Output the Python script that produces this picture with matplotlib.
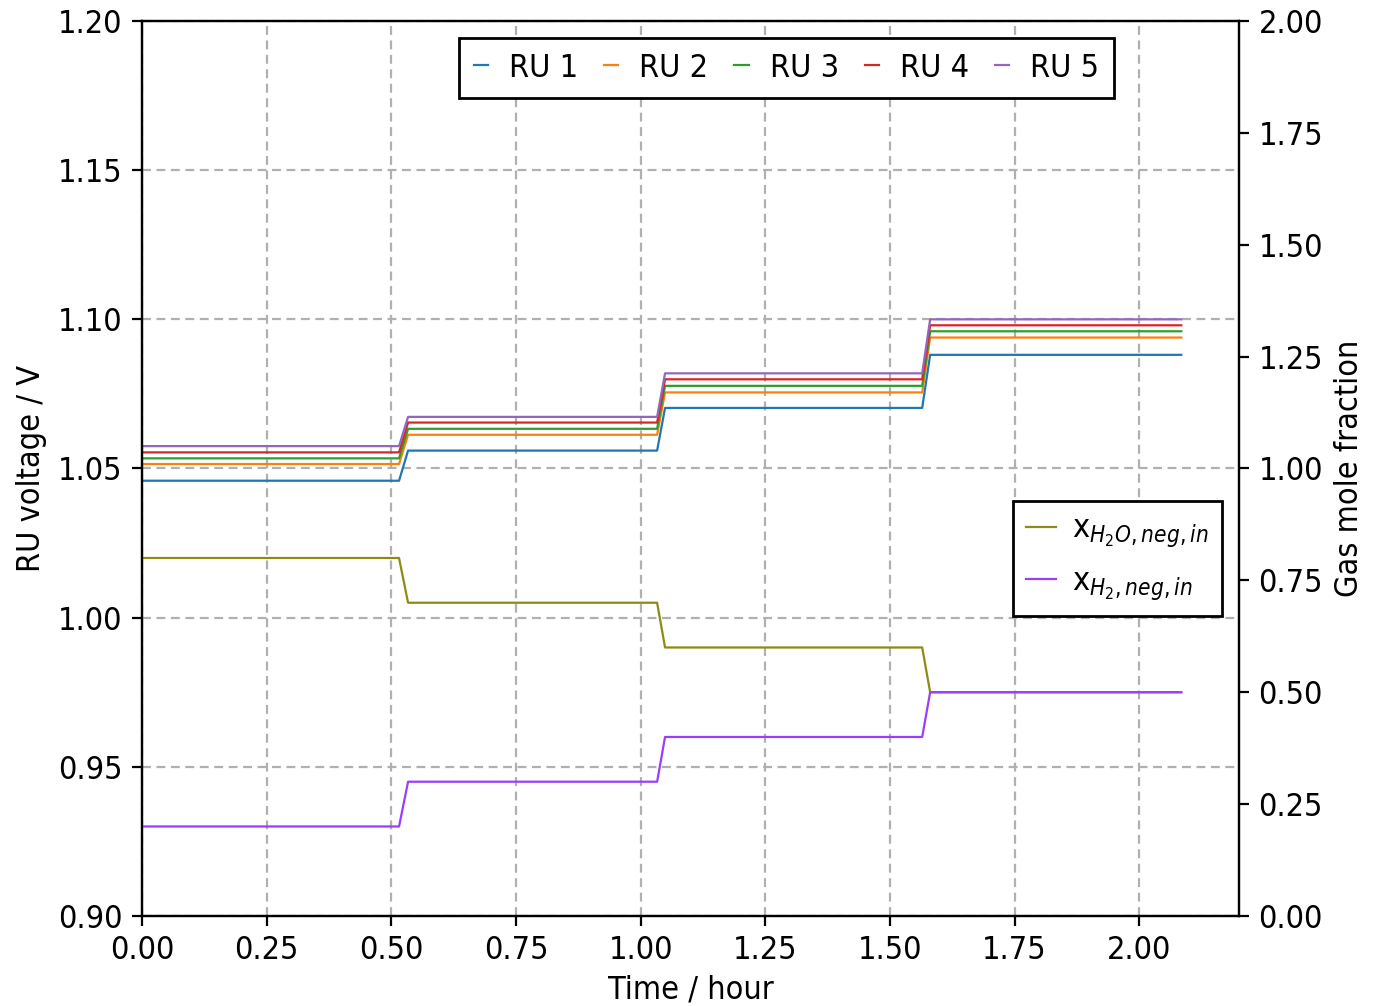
import matplotlib
matplotlib.use('Agg')
import matplotlib.pyplot as plt

plt.rcParams['font.size'] = 11.6
plt.rcParams['font.stretch'] = 'condensed'
plt.rcParams['mathtext.fontset'] = 'dejavusans'

# time breakpoints (hour): hold, ramp, hold, ...
t = [0.0, 0.5155, 0.5336, 1.0331, 1.049, 1.5647, 1.5807, 2.0843]

ru_levels = {
    'RU 1': [1.0459, 1.0560, 1.0703, 1.0881],
    'RU 2': [1.0515, 1.0613, 1.0755, 1.0939],
    'RU 3': [1.0534, 1.0633, 1.0777, 1.0960],
    'RU 4': [1.0554, 1.0654, 1.0799, 1.0980],
    'RU 5': [1.0575, 1.0673, 1.0819, 1.1000],
}
x_h2o_levels = [0.80, 0.70, 0.60, 0.50]
x_h2_levels = [0.20, 0.30, 0.40, 0.50]


def steps(levels):
    out = []
    for v in levels:
        out += [v, v]
    return out


fig = plt.figure(figsize=(6.88, 5.03), dpi=200)
ax = fig.add_axes([0.1032, 0.0895, 0.7972, 0.8896])

for i, (name, lv) in enumerate(ru_levels.items()):
    ax.plot(t, steps(lv), color=f'C{i}', lw=0.8, label=name)

ax.set_xlim(0, 2.2)
ax.set_ylim(0.90, 1.20)
ax.set_xticks([0, 0.25, 0.5, 0.75, 1.0, 1.25, 1.5, 1.75, 2.0])
ax.set_xlabel('Time / hour', labelpad=3)
ax.set_ylabel('RU voltage / V')
ax.grid(True, linestyle=(0, (4, 2.5)), color='#b0b0b0', lw=0.8)
leg1 = ax.legend(ncol=5, loc='upper right', bbox_to_anchor=(0.886, 0.981),
                 borderaxespad=0, handlelength=0.45, columnspacing=0.8,
                 handletextpad=0.65, borderpad=0.45,
                 fancybox=False, edgecolor='k', framealpha=1)

ax2 = ax.twinx()
ax2.plot(t, steps(x_h2o_levels), color='#8c8c14', lw=0.8,
         label='x$_{H_2O, neg, in}$')
ax2.plot(t, steps(x_h2_levels), color='#9b3dff', lw=0.8,
         label='x$_{H_2, neg, in}$')
ax2.set_ylim(0, 2.0)
ax2.set_yticks([0, 0.25, 0.5, 0.75, 1.0, 1.25, 1.5, 1.75, 2.0])
ax2.set_ylabel('Gas mole fraction')
ax2.legend(loc='upper right', bbox_to_anchor=(0.9845, 0.4637), borderaxespad=0,
           handlelength=0.95, handletextpad=0.5,
           fancybox=False, edgecolor='k', framealpha=1)

fig.savefig('out.png', dpi=200)
